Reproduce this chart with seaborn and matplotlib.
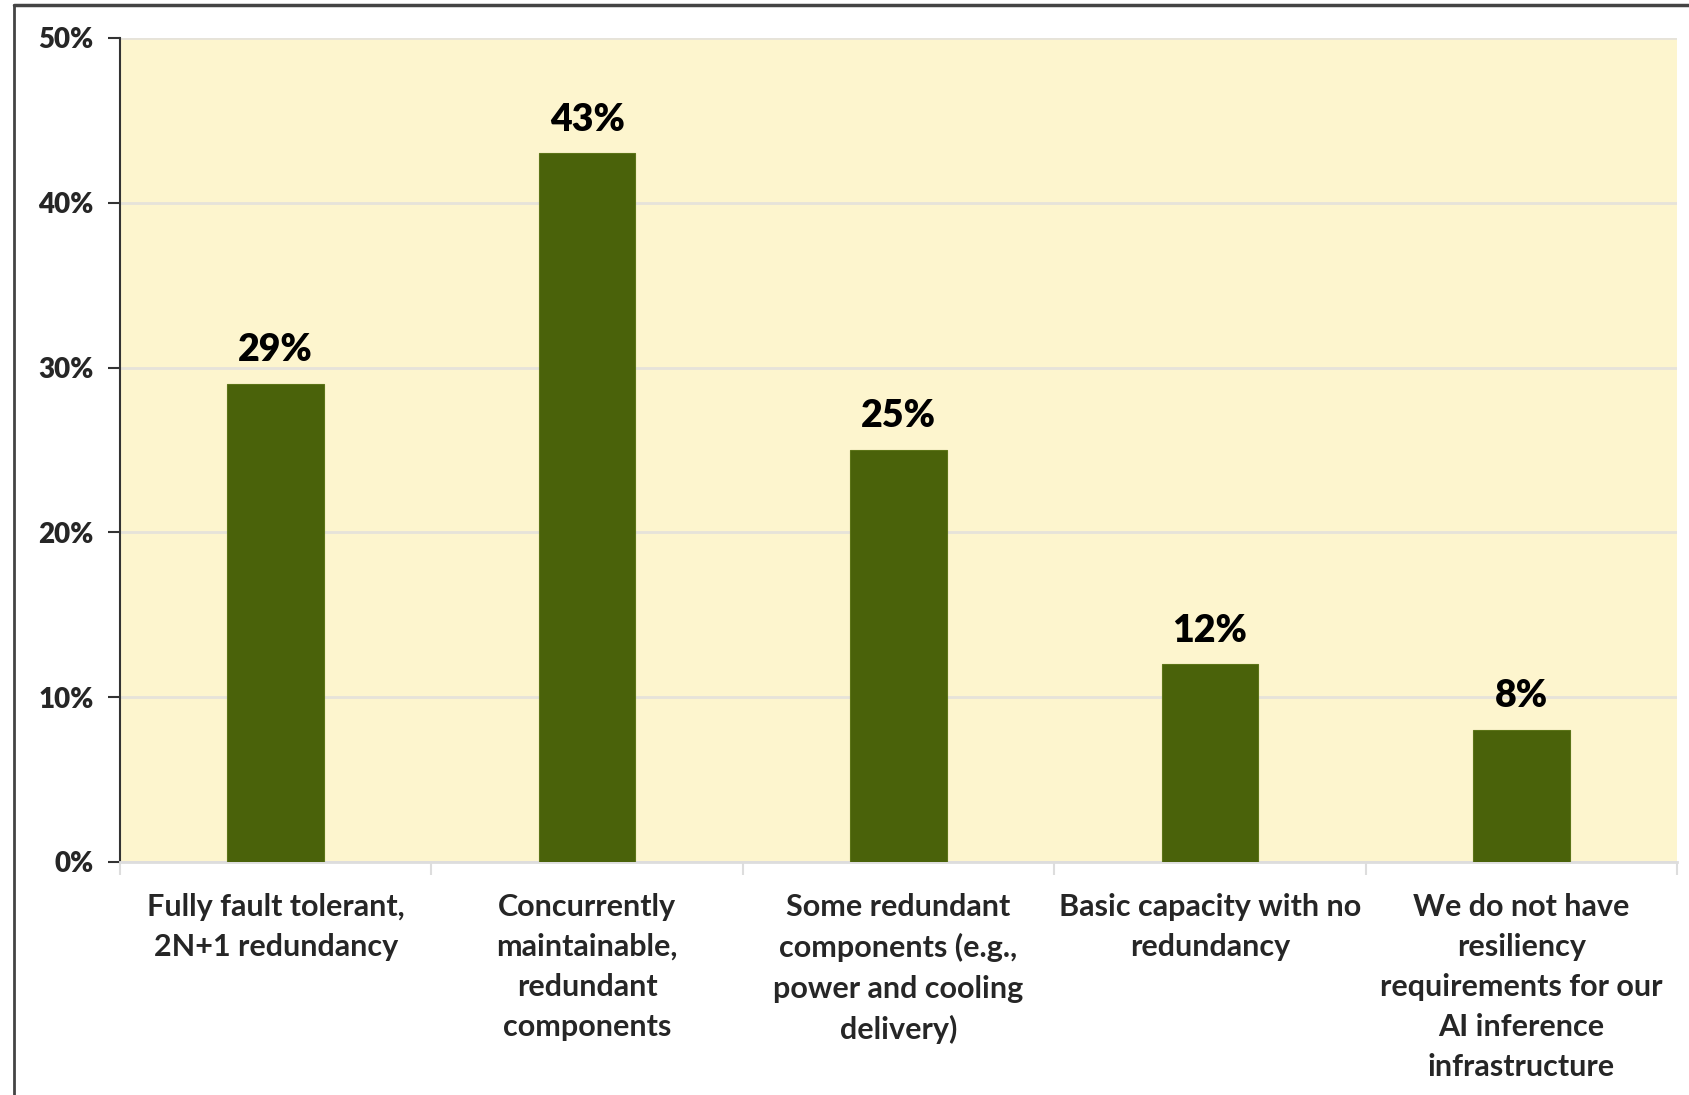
import matplotlib
matplotlib.use("Agg")
import matplotlib.pyplot as plt
import seaborn as sns
import pandas as pd
from matplotlib.lines import Line2D
from matplotlib.ticker import FixedLocator, PercentFormatter

categories = [
    "Fully fault tolerant,\n2N+1 redundancy",
    "Concurrently\nmaintainable,\nredundant\ncomponents",
    "Some redundant\ncomponents (e.g.,\npower and cooling\ndelivery)",
    "Basic capacity with no\nredundancy",
    "We do not have\nresiliency\nrequirements for our\nAI inference\ninfrastructure",
]
values = [0.29, 0.43, 0.25, 0.12, 0.08]
value_labels = ["29%", "43%", "25%", "12%", "8%"]
y_ticks = [0.0, 0.1, 0.2, 0.3, 0.4, 0.5]

sns.set_theme(style="white")
plt.rcParams["font.family"] = ["Lato", "DejaVu Sans"]

W, H = 1689, 1095
fig = plt.figure(figsize=(W / 100, H / 100), dpi=100)
fig.patch.set_facecolor("white")
ax = fig.add_axes([120 / W, (H - 862) / H, (1677 - 120) / W, (862 - 38) / H])

df = pd.DataFrame({"cat": categories, "val": values})
sns.barplot(data=df, x="cat", y="val", color="#4A620A", saturation=1,
            width=0.31, ax=ax, edgecolor="#5C7418", linewidth=0.8, zorder=3)

ax.set_facecolor("#FDF5CE")
ax.set_ylim(0, 0.5)
ax.set_xlim(-0.5, len(categories) - 0.5)
ax.set_yticks(y_ticks)
ax.yaxis.set_major_formatter(PercentFormatter(1.0, decimals=0))
ax.grid(axis="y", color="#E6E3DA", linewidth=2, zorder=0)
ax.set_axisbelow(True)
ax.set_xlabel("")
ax.set_ylabel("")

for lab in ax.get_yticklabels():
    lab.set_fontweight("heavy")
    lab.set_fontsize(20)
ax.tick_params(axis="y", direction="out", length=9, width=1.5, color="#333333", pad=10, left=True)

ax.set_xticks(range(len(categories)))
ax.set_xticklabels(categories, fontsize=22, fontweight="bold", linespacing=1.53, va="top")
ax.tick_params(axis="x", which="major", length=0, pad=22)
ax.xaxis.set_minor_locator(FixedLocator([i - 0.5 for i in range(len(categories) + 1)]))
ax.tick_params(axis="x", which="minor", direction="out", length=9, width=1.5, color="#DDDDDD", bottom=True)

for s in ["top", "right"]:
    ax.spines[s].set_visible(False)
ax.spines["left"].set_color("#333333")
ax.spines["left"].set_linewidth(1.5)
ax.spines["bottom"].set_color("#DDDDDD")
ax.spines["bottom"].set_linewidth(2)

ax.bar_label(ax.containers[0], labels=value_labels, padding=12,
             fontsize=27, fontweight="heavy", color="black")

# outer frame (left and top)
fig.add_artist(Line2D([14 / W, 14 / W], [0, 1 - 5 / H], transform=fig.transFigure,
                      color="#444444", linewidth=2))
fig.add_artist(Line2D([14 / W, 1], [1 - 5 / H, 1 - 5 / H], transform=fig.transFigure,
                      color="#444444", linewidth=2.5))

fig.savefig("out.png", dpi=100, facecolor="white")
